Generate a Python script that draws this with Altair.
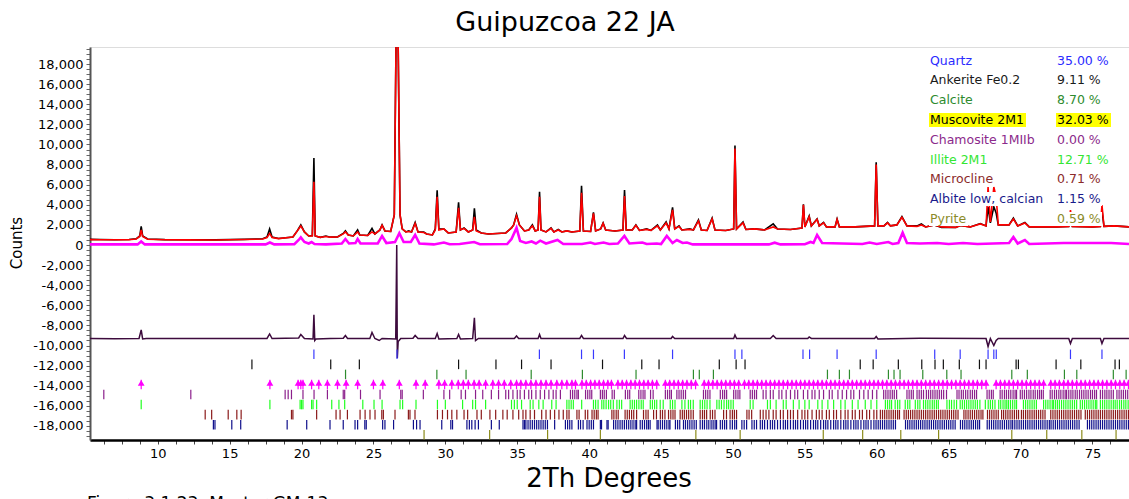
import altair as alt
import pandas as pd

# ---------------- observed and calculated profile (2θ °, counts) ----------------
two_theta = [5.29, 6.0, 7.0, 8.0, 8.5, 8.75, 8.85, 8.95, 9.3, 10.5,
             12.0, 14.0, 16.0, 17.3, 17.6, 17.78, 17.95, 18.4, 19.4, 19.7,
             19.95, 20.2, 20.5, 20.75, 20.86, 20.95, 21.3, 21.7, 22.0, 22.5,
             22.9, 23.05, 23.25, 23.6, 23.9, 24.05, 24.6, 24.9, 25.1, 25.45,
             25.6, 25.8, 26.2, 26.45, 26.64, 26.85, 27.0, 27.25, 27.45, 27.65,
             27.9, 28.1, 28.5, 28.7, 29.1, 29.3, 29.43, 29.55, 29.9, 30.2,
             30.75, 30.92, 31.05, 31.3, 31.6, 31.9, 32.02, 32.15, 32.5, 33.0,
             33.6, 34.2, 34.6, 34.75, 34.95, 35.15, 35.5, 35.8, 36.05, 36.25,
             36.45, 36.55, 36.65, 37.0, 37.35, 37.55, 37.85, 38.1, 38.45, 38.8,
             39.35, 39.47, 39.6, 40.1, 40.3, 40.45, 40.8, 40.97, 41.15, 41.8,
             42.35, 42.46, 42.58, 43.0, 43.25, 43.5, 44.0, 44.3, 44.75, 44.95,
             45.35, 45.55, 45.8, 45.95, 46.25, 46.45, 47.0, 47.25, 47.6, 47.8,
             48.2, 48.55, 48.75, 49.5, 50.05, 50.14, 50.25, 50.7, 50.9, 51.5,
             52.2, 52.8, 53.1, 54.0, 54.8, 54.9, 55.0, 55.3, 55.45, 55.85,
             56.0, 56.3, 56.5, 57.1, 57.24, 57.4, 58.5, 59.85, 59.96, 60.08,
             60.5, 60.75, 60.95, 61.4, 61.75, 62.1, 62.8, 63.1, 63.4, 64.0,
             64.5, 65.5, 65.8, 66.5, 67.2, 67.6, 67.74, 67.9, 68.14, 68.3,
             68.45, 69.2, 69.5, 69.8, 70.3, 70.6, 71.5, 72.5, 73.35, 73.47,
             73.6, 75.0, 75.55, 75.66, 75.8, 76.5, 77.54]
observed = [560, 545, 530, 545, 620, 900, 1850, 900, 600, 540,
            520, 510, 560, 620, 800, 1600, 800, 650, 800, 1400,
            2000, 1300, 900, 950, 8650, 900, 760, 900, 780, 800,
            1150, 1420, 1000, 900, 1500, 1000, 950, 1650, 1100, 1500,
            2000, 1400, 1350, 3000, 30000, 3000, 1600, 1300, 1400, 1300,
            2250, 1300, 1300, 1100, 1000, 1600, 5450, 1600, 1600, 1200,
            1300, 4250, 1500, 1700, 1300, 1500, 3650, 1500, 1200, 1100,
            1150, 1200, 1700, 2000, 3050, 2000, 1400, 1500, 2000, 1400,
            1500, 5300, 1500, 1300, 1700, 1300, 1550, 1300, 1400, 1300,
            1400, 5900, 1400, 1350, 3250, 1400, 1600, 2200, 1500, 1400,
            1500, 5470, 1500, 1500, 2000, 1450, 1600, 1450, 2000, 1500,
            2300, 1600, 3750, 1600, 1900, 1500, 1600, 1500, 2500, 1500,
            1450, 2680, 1500, 1450, 1600, 9900, 1600, 2300, 1550, 1600,
            1500, 2100, 1600, 1550, 1700, 4050, 1800, 2880, 1900, 2600,
            1900, 2240, 1800, 1800, 2580, 1800, 1800, 1900, 8220, 1900,
            1900, 2240, 1900, 2000, 2820, 1900, 1900, 2090, 1800, 2000,
            1750, 1750, 1950, 1800, 2130, 1900, 3800, 2200, 3800, 3200,
            2000, 2000, 2680, 1900, 2240, 1800, 1800, 1800, 1850, 2900,
            1850, 1800, 1850, 3480, 1850, 1900, 1800]
calculated = [540, 530, 520, 530, 600, 850, 1500, 850, 580, 530,
              515, 505, 545, 600, 750, 1150, 750, 640, 800, 1400,
              1900, 1300, 900, 900, 6300, 900, 760, 850, 780, 800,
              1100, 1300, 1000, 900, 1300, 1000, 950, 1300, 1100, 1500,
              1950, 1400, 1350, 3000, 30000, 3000, 1600, 1300, 1350, 1300,
              2150, 1300, 1250, 1100, 1000, 1500, 4800, 1500, 1600, 1200,
              1300, 3700, 1500, 1650, 1300, 1500, 2800, 1400, 1200, 1100,
              1150, 1200, 1700, 2000, 2900, 2000, 1400, 1500, 1900, 1400,
              1500, 4800, 1500, 1300, 1650, 1300, 1500, 1300, 1400, 1300,
              1400, 5200, 1400, 1350, 3150, 1400, 1600, 2150, 1500, 1400,
              1500, 4870, 1500, 1500, 1950, 1450, 1550, 1450, 1900, 1500,
              2200, 1600, 3500, 1600, 1850, 1500, 1550, 1500, 2400, 1500,
              1450, 2600, 1500, 1450, 1600, 9600, 1600, 2200, 1550, 1600,
              1500, 1800, 1600, 1550, 1700, 4000, 1800, 2800, 1900, 2550,
              1900, 2200, 1800, 1800, 2550, 1800, 1800, 1900, 8000, 1900,
              1900, 2200, 1900, 2000, 2750, 1900, 1850, 2000, 1800, 2000,
              1800, 1750, 1950, 1800, 2100, 1900, 5770, 2300, 5770, 4800,
              2000, 2000, 2600, 1900, 2200, 1800, 1800, 1800, 1850, 3480,
              1850, 1800, 1850, 3980, 1850, 1900, 1800]

# ---------------- muscovite contribution, drawn around zero ----------------
phase_tt = [5.29, 8.6, 8.85, 9.1, 17.5, 17.8, 18.1, 19.5, 19.8, 19.95,
            20.2, 20.5, 20.7, 20.9, 21.7, 22.8, 23.05, 23.3, 23.75, 23.9,
            24.1, 25.3, 25.6, 25.9, 26.5, 26.8, 27.1, 27.6, 27.9, 28.2,
            29.2, 29.9, 30.3, 31.0, 32.0, 32.4, 34.3, 34.6, 34.95, 35.2,
            35.6, 36.0, 36.3, 36.6, 37.0, 37.8, 38.2, 39.5, 40.1, 40.4,
            41.0, 41.4, 42.0, 42.45, 42.8, 43.7, 44.0, 44.7, 45.0, 45.4,
            45.8, 46.1, 46.5, 46.8, 47.2, 52.5, 52.9, 53.3, 55.0, 55.4,
            55.6, 55.85, 56.2, 59.0, 59.5, 60.0, 60.8, 61.1, 61.5, 61.8,
            62.1, 63.0, 64.2, 65.0, 66.0, 67.0, 69.2, 69.5, 69.8, 70.3,
            70.6, 73.0, 76.3, 77.54]
phase_counts = [60, 60, 350, 60, 60, 250, 60, 80, 500, 760,
                300, 150, 300, 100, 60, 150, 600, 150, 200, 600,
                150, 150, 900, 200, 300, 1180, 300, 300, 1000, 150,
                60, 250, 80, 100, 300, 80, 100, 600, 1700, 400,
                200, 350, 150, 430, 150, 500, 100, 100, 250, 100,
                250, 100, 150, 900, 150, 250, 100, 150, 100, 900,
                200, 500, 200, 250, 60, 60, 230, 60, 80, 300,
                200, 990, 200, 100, 250, 100, 300, 100, 200, 1230,
                200, 150, 200, 100, 200, 100, 200, 800, 150, 500,
                100, 200, 200, 100]

# ---------------- difference curve (offset below zero) ----------------
diff_tt = [5.29, 7.0, 8.7, 8.85, 8.95, 9.2, 12.0, 15.0, 17.6, 17.78,
           17.95, 19.8, 19.95, 20.2, 20.8, 20.86, 20.92, 21.0, 22.0, 22.9,
           23.05, 23.2, 24.75, 24.9, 25.1, 25.4, 25.6, 26.55, 26.62, 26.66,
           26.72, 26.9, 27.75, 27.9, 28.1, 29.3, 29.43, 29.55, 30.8, 30.92,
           31.05, 31.9, 32.02, 32.1, 32.3, 34.8, 34.95, 35.1, 36.45, 36.55,
           36.65, 39.35, 39.47, 39.6, 42.35, 42.46, 42.6, 45.7, 45.8, 45.95,
           50.05, 50.14, 50.25, 52.6, 52.8, 53.0, 55.2, 55.3, 55.45, 59.85,
           59.96, 60.08, 63.0, 67.6, 67.74, 67.9, 68.14, 68.3, 68.45, 73.35,
           73.47, 73.6, 75.55, 75.66, 75.8, 77.54]
diff_counts = [-9300, -9320, -9300, -8450, -9350, -9300, -9310, -9290, -9300, -8850,
               -9300, -9250, -8900, -9300, -9350, -6950, -9500, -9350, -9300, -9280,
               -9000, -9300, -9300, -8700, -9300, -9500, -9300, -9350, 0, -11250,
               -9600, -9300, -9280, -9000, -9300, -9300, -8800, -9350, -9300, -8900,
               -9350, -9300, -7250, -9500, -9300, -9300, -9050, -9300, -9300, -8900,
               -9300, -9300, -9000, -9300, -9300, -9000, -9300, -9300, -9100, -9300,
               -9300, -8950, -9300, -9300, -9000, -9300, -9300, -9150, -9300, -9300,
               -9100, -9350, -9280, -9300, -10100, -9300, -10000, -9500, -9300, -9300,
               -9800, -9300, -9300, -9800, -9300, -9300]

# ---------------- phases: names, weight fractions, colours ----------------
phase_names = ["Quartz", "Ankerite Fe0.2", "Calcite", "Muscovite 2M1",
               "Chamosite 1MIIb", "Illite 2M1", "Microcline",
               "Albite low, calcian", "Pyrite"]
phase_pct = [35.00, 9.11, 8.70, 32.03, 0.00, 12.71, 0.71, 1.15, 0.59]
text_colors = ["#2b2bff", "#1a1a1a", "#2e8b2e", "#000000", "#8b2a8b",
               "#33e633", "#8b2a2a", "#1a1a8b", "#8b8b2a"]
tick_colors = ["#3a3aff", "#111111", "#2e8b2e", "#ff00ff", "#8b1f8b",
               "#22ff22", "#8b1a1a", "#0f0f8b", "#8b8b1a"]

# ---------------- reflection positions (2θ °) ----------------
quartz_hkl = [20.86, 26.64, 36.54, 39.47, 40.3, 42.45, 45.8, 50.14, 50.62, 54.87,
              55.33, 57.24, 59.96, 64.03, 65.8, 67.74, 68.14, 68.31, 73.47, 75.66]
ankerite_hkl = [16.55, 22.03, 24.02, 30.92, 33.52, 35.3, 37.35, 40.93, 43.66, 44.86,
                49.05, 50.22, 50.84, 58.85, 59.75, 61.5, 63.13, 64.05, 64.63, 65.74,
                67.14, 67.6, 69.69, 69.85, 72.47, 74.19, 76.57, 76.87]
calcite_hkl = [23.06, 29.41, 31.44, 35.97, 39.53, 43.26, 47.25, 47.66, 48.64, 56.57,
               57.4, 58.1, 60.81, 61.2, 61.62, 63.2, 64.87, 65.86, 69.39, 70.47,
               73.05, 73.91, 76.45, 77.34]
muscovite_hkl = [8.85, 17.8, 19.76, 19.95, 20.1, 20.7, 21.2, 21.8, 22.5, 23.1,
                 23.9, 25.0, 25.65, 26.8, 27.96, 28.6, 29.55, 29.95, 30.45, 30.9,
                 31.25, 31.6, 32.0, 32.35, 32.8, 33.3, 33.7, 34.1, 34.55, 34.95,
                 35.25, 35.6, 35.95, 36.3, 36.65, 37.0, 37.35, 37.75, 38.1, 38.45,
                 38.8, 39.05, 39.5, 39.8, 40.1, 40.4, 40.7, 41.0, 41.3, 41.55,
                 42.0, 42.3, 42.6, 42.9, 43.2, 43.5, 43.8, 44.1, 44.4, 44.7,
                 45.3, 45.6, 45.9, 46.2, 46.5, 46.8, 47.1, 47.4, 48.0, 48.3,
                 48.6, 48.9, 49.2, 49.5, 49.8, 50.1, 50.4, 50.8, 51.1, 51.4,
                 51.7, 52.0, 52.3, 52.6, 52.9, 53.2, 53.5, 53.8, 54.1, 54.4,
                 54.7, 55.0, 55.3, 55.6, 55.9, 56.2, 56.5, 56.8, 57.1, 57.4,
                 57.7, 58.0, 58.3, 58.6, 58.9, 59.2, 59.5, 59.8, 60.1, 60.4,
                 60.7, 61.0, 61.3, 61.6, 61.9, 62.2, 62.5, 62.8, 63.1, 63.4,
                 63.7, 64.0, 64.3, 64.6, 64.9, 65.2, 65.5, 65.8, 66.1, 66.4,
                 66.7, 67.0, 67.3, 67.6, 68.3, 68.6, 68.9, 69.2, 69.5, 69.8,
                 70.1, 70.4, 70.7, 71.0, 71.3, 71.6, 72.1, 72.4, 72.7, 73.0,
                 73.3, 73.6, 73.9, 74.2, 74.5, 74.8, 75.1, 75.4, 75.7, 76.0,
                 76.3, 76.6, 76.9, 77.2, 77.5]
chamosite_hkl = [6.25, 12.3, 18.86, 19.07, 19.3, 20.1, 20.87, 21.8, 22.9, 23.0,
                 24.1, 25.46, 26.9, 27.0, 28.47, 29.9, 30.3, 31.1, 31.4, 32.1,
                 32.6, 33.2, 33.7, 34.2, 34.4, 34.7, 35.0, 35.2, 35.5, 35.8,
                 36.0, 36.3, 36.6, 36.9, 37.2, 37.5, 37.7, 38.0, 38.7, 38.85,
                 39.0, 39.15, 39.25, 39.75, 39.9, 40.05, 40.18, 40.78, 40.92, 41.05,
                 41.2, 41.6, 41.75, 42.52, 42.68, 42.82, 43.45, 43.6, 43.75, 43.88,
                 44.27, 44.45, 45.3, 45.45, 45.6, 45.72, 46.1, 46.25, 46.4, 46.55,
                 46.7, 47.95, 48.1, 48.25, 48.4, 49.12, 49.28, 49.42, 49.56, 50.05,
                 50.2, 50.35, 50.48, 51.2, 51.35, 51.5, 51.64, 52.1, 52.3, 52.6,
                 52.8, 53.2, 53.4, 53.7, 54.0, 54.3, 54.5, 54.9, 55.2, 55.5,
                 55.7, 56.0, 56.3, 56.7, 56.9, 57.3, 57.6, 57.9, 58.2, 58.4,
                 58.8, 59.1, 59.4, 59.7, 60.0, 60.48, 60.63, 60.78, 60.93, 61.08,
                 61.22, 61.38, 62.1, 62.25, 62.4, 62.54, 62.8, 62.95, 63.1, 63.25,
                 63.45, 63.6, 63.75, 63.9, 64.05, 64.2, 64.35, 64.5, 64.65, 64.85,
                 65.58, 65.72, 65.88, 66.02, 66.18, 66.33, 66.5, 66.65, 66.8, 66.94,
                 67.67, 67.82, 67.97, 68.1, 68.58, 68.72, 68.88, 69.02, 69.17, 69.32,
                 69.48, 69.62, 69.72, 69.98, 70.12, 70.27, 70.42, 70.58, 70.72, 70.88,
                 71.02, 71.18, 71.32, 71.45, 71.58, 72.06, 72.2, 72.36, 72.5, 72.66,
                 72.8, 72.96, 73.1, 73.2, 73.35, 73.5, 73.64, 73.8, 73.94, 74.1,
                 74.25, 74.4, 74.55, 74.7, 74.86, 75.0, 75.15, 75.28, 75.55, 75.7,
                 75.86, 76.0, 76.15, 76.3, 76.45, 76.7, 76.85, 77.0, 77.15, 77.3,
                 77.45]
illite_hkl = [8.85, 17.8, 19.9, 20.0, 20.1, 20.7, 20.8, 21.05, 22.1, 22.6,
              23.0, 24.26, 25.04, 25.6, 26.85, 27.03, 27.96, 29.45, 30.0, 31.2,
              31.9, 32.1, 32.8, 34.6, 34.8, 35.0, 35.3, 35.9, 36.1, 36.5,
              36.8, 37.4, 37.7, 38.45, 38.6, 38.75, 38.9, 39.48, 40.3, 40.45,
              40.62, 40.88, 41.02, 41.18, 41.35, 41.5, 41.68, 41.93, 42.1, 42.26,
              42.85, 43.0, 43.15, 43.3, 43.46, 43.62, 43.76, 44.25, 44.4, 44.55,
              44.7, 44.94, 45.15, 45.64, 45.8, 45.97, 46.45, 46.66, 46.9, 47.05,
              47.24, 47.72, 47.88, 48.04, 48.2, 48.4, 48.88, 49.04, 49.2, 49.38,
              49.56, 49.7, 49.86, 50.02, 51.2, 51.4, 52.4, 52.6, 53.0, 53.5,
              53.7, 54.2, 54.6, 55.0, 55.3, 55.9, 56.2, 56.6, 57.0, 57.5,
              57.8, 58.3, 58.7, 59.2, 59.6, 60.0, 60.6, 60.75, 60.9, 61.03,
              61.28, 61.45, 61.6, 61.98, 62.15, 62.3, 62.68, 62.85, 63.0, 63.25,
              63.4, 63.55, 63.7, 63.86, 64.0, 64.15, 64.28, 64.88, 65.05, 65.2,
              65.38, 65.55, 65.8, 65.95, 66.1, 66.25, 66.4, 66.55, 66.7, 66.85,
              67.0, 67.17, 67.55, 67.75, 67.9, 68.05, 68.22, 68.48, 68.62, 68.78,
              68.92, 69.04, 69.16, 69.3, 69.45, 69.6, 69.72, 70.2, 70.35, 70.5,
              70.65, 70.8, 70.95, 71.1, 71.6, 71.75, 71.9, 72.05, 72.2, 72.28,
              72.42, 72.56, 72.7, 72.85, 73.0, 73.15, 73.3, 73.45, 73.6, 73.75,
              73.9, 74.15, 74.3, 74.45, 74.6, 74.75, 74.9, 75.05, 75.2, 75.3,
              75.55, 75.7, 75.85, 76.0, 76.15, 76.3, 76.45, 76.58, 76.72, 76.88,
              77.02, 77.18, 77.32, 77.48]
microcline_hkl = [13.3, 13.75, 14.9, 15.5, 15.8, 19.3, 19.4, 21.05, 22.4, 22.68,
                  23.19, 24.07, 24.42, 24.76, 25.11, 25.58, 25.69, 26.5, 27.43, 27.54,
                  27.89, 29.45, 29.8, 30.15, 30.45, 30.8, 31.3, 31.55, 32.2, 32.5,
                  33.1, 33.5, 34.0, 34.3, 34.7, 35.1, 35.4, 35.6, 35.9, 36.2,
                  36.7, 37.0, 37.3, 37.6, 37.9, 38.2, 38.45, 38.6, 39.15, 39.3,
                  39.73, 39.9, 40.2, 40.35, 40.5, 40.62, 41.58, 41.72, 41.88, 42.02,
                  42.5, 42.65, 42.8, 42.95, 43.1, 43.3, 43.78, 43.95, 44.1, 44.48,
                  44.68, 44.95, 45.1, 45.27, 45.52, 45.68, 45.83, 45.97, 46.33, 46.48,
                  46.62, 46.77, 46.92, 47.08, 47.24, 47.72, 47.88, 48.02, 48.17, 48.42,
                  48.58, 48.75, 49.35, 49.55, 49.8, 49.96, 50.1, 50.25, 50.97, 51.12,
                  51.3, 51.9, 52.1, 52.3, 52.5, 52.8, 53.0, 53.3, 53.5, 53.8,
                  54.0, 54.2, 54.5, 54.8, 55.0, 55.2, 55.5, 55.8, 56.0, 56.2,
                  56.5, 56.7, 57.0, 57.2, 57.5, 57.8, 58.0, 58.3, 58.5, 58.8,
                  59.0, 59.3, 59.5, 59.8, 60.0, 60.25, 60.4, 60.55, 60.7, 60.85,
                  61.0, 61.15, 61.3, 61.45, 61.58, 61.9, 62.05, 62.2, 62.35, 62.5,
                  62.65, 62.8, 62.95, 63.1, 63.25, 63.4, 63.55, 63.7, 63.85, 64.0,
                  64.15, 64.3, 64.45, 64.6, 64.75, 64.9, 65.05, 65.2, 65.35, 65.5,
                  65.65, 66.06, 66.2, 66.35, 66.5, 66.65, 66.8, 66.95, 67.1, 67.25,
                  67.38, 67.7, 67.85, 68.0, 68.15, 68.3, 68.45, 68.68, 68.82, 68.97,
                  69.12, 69.27, 69.42, 69.57, 69.72, 69.86, 70.06, 70.2, 70.35, 70.5,
                  70.65, 70.8, 70.95, 71.1, 71.25, 71.4, 71.55, 71.7, 72.1, 72.25,
                  72.4, 72.55, 72.7, 72.85, 73.0, 73.15, 73.3, 73.45, 73.6, 73.75,
                  73.9, 74.05, 74.2, 74.5, 74.65, 74.8, 74.95, 75.1, 75.25, 75.4,
                  75.55, 75.7, 75.85, 76.0, 76.15, 76.3, 76.45, 76.6, 76.75, 76.9,
                  77.05, 77.2, 77.35, 77.5]
albite_hkl = [13.87, 13.98, 15.15, 15.77, 19.0, 20.36, 21.98, 22.9, 23.72, 23.9,
              24.4, 24.5, 25.64, 25.8, 26.4, 27.78, 28.0, 28.24, 29.75, 30.38,
              30.5, 31.5, 31.67, 31.84, 32.07, 32.3, 33.2, 33.75, 35.4, 35.5,
              35.6, 35.75, 35.9, 36.05, 36.2, 36.35, 36.5, 36.65, 36.8, 36.95,
              37.1, 37.6, 38.35, 38.5, 38.65, 38.8, 39.25, 39.4, 39.58, 39.85,
              40.0, 40.15, 40.3, 40.78, 40.86, 41.24, 41.32, 41.7, 41.85, 42.0,
              42.15, 42.3, 42.45, 42.6, 42.75, 42.9, 43.05, 43.2, 43.3, 43.55,
              43.7, 43.85, 44.0, 44.12, 44.24, 44.72, 44.8, 44.95, 45.1, 45.25,
              45.4, 45.55, 45.62, 46.0, 46.15, 46.3, 46.56, 46.7, 46.85, 47.0,
              47.15, 47.3, 47.45, 47.72, 47.88, 48.02, 48.18, 48.32, 48.48, 48.62,
              48.76, 48.86, 49.12, 49.27, 49.42, 49.56, 49.8, 49.96, 50.12, 50.25,
              50.62, 50.78, 50.95, 51.32, 51.48, 51.64, 51.9, 52.05, 52.2, 52.4,
              52.6, 52.75, 52.9, 53.1, 53.3, 53.5, 53.65, 53.8, 54.0, 54.2,
              54.35, 54.5, 54.7, 54.9, 55.05, 55.2, 55.4, 55.6, 55.75, 55.9,
              56.1, 56.3, 56.45, 56.6, 56.8, 57.0, 57.15, 57.3, 57.5, 57.7,
              57.85, 58.0, 58.2, 58.4, 58.55, 58.7, 58.9, 59.1, 59.25, 59.4,
              59.6, 59.8, 59.95, 60.1, 60.25, 60.4, 60.55, 60.7, 60.85, 61.0,
              61.15, 61.3, 62.0, 62.15, 62.3, 62.45, 62.6, 62.75, 62.9, 63.05,
              63.2, 63.35, 63.5, 63.65, 63.8, 63.95, 64.1, 64.25, 64.4, 64.55,
              64.7, 64.85, 65.0, 65.15, 65.3, 65.45, 65.82, 65.97, 66.12, 66.27,
              66.42, 66.57, 66.72, 66.87, 67.02, 67.15, 67.68, 67.83, 67.98, 68.13,
              68.28, 68.43, 68.58, 68.73, 68.88, 69.03, 69.18, 69.33, 69.45, 69.6,
              69.75, 69.9, 70.05, 70.2, 70.35, 70.5, 70.65, 70.8, 70.95, 71.1,
              71.25, 71.4, 71.55, 71.7, 71.85, 72.0, 72.12, 72.27, 72.42, 72.57,
              72.72, 72.87, 73.02, 73.17, 73.32, 73.47, 73.62, 73.77, 73.92, 74.07,
              74.65, 74.8, 74.95, 75.1, 75.25, 75.4, 75.55, 75.7, 75.85, 76.0,
              76.15, 76.3, 76.45, 76.6, 76.75, 76.9, 77.05, 77.2, 77.35, 77.5]
pyrite_hkl = [28.52, 33.08, 37.11, 40.78, 47.42, 50.5, 56.28, 59.02, 61.67, 64.3,
              69.39, 71.82, 74.26, 76.64]

phase_ticks = [quartz_hkl, ankerite_hkl, calcite_hkl, muscovite_hkl, chamosite_hkl,
               illite_hkl, microcline_hkl, albite_hkl, pyrite_hkl]

# ---------------- axis ticks ----------------
x_tick_values = [6.25 + 1.25 * k for k in range(57)]
y_tick_values = list(range(-19000, 19501, 500))

# ---------------- layout ----------------
PAD_L, PAD_T, PLOT_W, PLOT_H = 90, 47, 1039, 393
ROW_TOP0, ROW_STEP, TICK_LEN = -10400, 1000, 950
FONT = "DejaVu Sans"

xs = alt.Scale(domain=[5.29, 77.54], nice=False, zero=False)
ys = alt.Scale(domain=[-19400, 19700], nice=False, zero=False)

x_axis = alt.Axis(
    values=x_tick_values,
    labelExpr="datum.value % 5 == 0 ? format(datum.value, 'd') : ''",
    domainColor="#000000", domainWidth=2.5, tickColor="#444444", tickWidth=1,
    tickSize=4, labelFont=FONT, labelFontSize=13, labelColor="#000000",
    labelPadding=3, labelOverlap=False, labelFlush=False, grid=False, title=None,
)
y_axis = alt.Axis(
    values=y_tick_values,
    labelExpr="datum.value % 2000 == 0 ? replace(format(datum.value, ','), '\u2212', '-') : ''",
    domainColor="#555555", domainWidth=2, tickColor="#666666", tickWidth=1,
    tickSize=4, labelFont=FONT, labelFontSize=13, labelColor="#000000",
    labelPadding=3, labelOverlap=False, labelFlush=False, grid=False, title=None,
)


def xy(xfield, yfield):
    return dict(
        x=alt.X(f"{xfield}:Q", scale=xs, axis=x_axis, title=None),
        y=alt.Y(f"{yfield}:Q", scale=ys, axis=y_axis, title=None),
    )


profile = pd.DataFrame({"tt": two_theta, "obs": observed, "calc": calculated})
obs_line = alt.Chart(profile).mark_line(color="#000000", strokeWidth=1.6, clip=True).encode(**xy("tt", "obs"))
calc_line = alt.Chart(profile).mark_line(color="#ff0000", strokeWidth=1.6, clip=True).encode(**xy("tt", "calc"))

phase_df = pd.DataFrame({"tt": phase_tt, "c": phase_counts})
phase_line = alt.Chart(phase_df).mark_line(color="#ff00ff", strokeWidth=2.6, clip=True).encode(**xy("tt", "c"))

diff_df = pd.DataFrame({"tt": diff_tt, "c": diff_counts})
diff_line = alt.Chart(diff_df).mark_line(color="#3d0b3d", strokeWidth=1.5, clip=True).encode(**xy("tt", "c"))

# reflection tick rows, one row per phase
rows = []
for i, (name, positions) in enumerate(zip(phase_names, phase_ticks)):
    top = ROW_TOP0 - ROW_STEP * i
    for p in positions:
        rows.append({"tt": p, "top": top, "bottom": top - TICK_LEN, "phase": name})
tick_df = pd.DataFrame(rows)
tick_marks = alt.Chart(tick_df).mark_rule(strokeWidth=1.2, clip=True).encode(
    **xy("tt", "top"),
    y2="bottom:Q",
    color=alt.Color("phase:N", scale=alt.Scale(domain=phase_names, range=tick_colors), legend=None),
)

mus_row_top = ROW_TOP0 - ROW_STEP * phase_names.index("Muscovite 2M1")
mus_df = pd.DataFrame({"tt": muscovite_hkl, "c": [mus_row_top - 320] * len(muscovite_hkl)})
mus_marks = alt.Chart(mus_df).mark_point(
    shape="triangle-up", filled=True, size=46, color="#ff00ff", opacity=1, clip=True
).encode(**xy("tt", "c"))

# legend block in the upper right of the plot
name_w = [44, 100, 45, 96, 107, 58, 65, 116, 38]
pct_w = [53, 45, 45, 54, 45, 53, 45, 45, 45]
leg = pd.DataFrame({
    "name": phase_names,
    "pct": [f"{v:.2f} %" for v in phase_pct],
    "color": text_colors,
    "yc": [60.5 + 19.8 * i - PAD_T for i in range(len(phase_names))],
    "box": ["#ffff00" if n == "Muscovite 2M1" else "#ffffff" for n in phase_names],
})
NAME_X, PCT_X = 930 - PAD_L, 1057 - PAD_L
leg["n0"] = NAME_X - 1
leg["n1"] = [NAME_X + w for w in name_w]
leg["p0"] = PCT_X - 1
leg["p1"] = [PCT_X + w for w in pct_w]
leg["y0"] = leg["yc"] - 7
leg["y1"] = leg["yc"] + 7

name_box = alt.Chart(leg).mark_rect().encode(
    x=alt.X("n0:Q", scale=None), x2="n1:Q",
    y=alt.Y("y0:Q", scale=None), y2="y1:Q",
    color=alt.Color("box:N", scale=None),
)
pct_box = alt.Chart(leg).mark_rect().encode(
    x=alt.X("p0:Q", scale=None), x2="p1:Q",
    y=alt.Y("y0:Q", scale=None), y2="y1:Q",
    color=alt.Color("box:N", scale=None),
)
name_text = alt.Chart(leg).mark_text(
    align="left", baseline="middle", font=FONT, fontSize=12.5
).encode(
    x=alt.value(NAME_X), y=alt.Y("yc:Q", scale=None),
    text="name:N", color=alt.Color("color:N", scale=None),
)
pct_text = alt.Chart(leg).mark_text(
    align="left", baseline="middle", font=FONT, fontSize=12.5
).encode(
    x=alt.value(PCT_X), y=alt.Y("yc:Q", scale=None),
    text="pct:N", color=alt.Color("color:N", scale=None),
)


def label(text, x, y, size, angle=0, align="center", baseline="alphabetic"):
    return alt.Chart(pd.DataFrame({"t": [text]})).mark_text(
        font=FONT, fontSize=size, angle=angle, align=align, baseline=baseline, color="#000000"
    ).encode(x=alt.value(x), y=alt.value(y), text="t:N")


title = label("Guipuzcoa 22 JA", 565 - PAD_L, 31 - PAD_T, 27)
x_title = label("2Th Degrees", 609 - PAD_L, 487 - PAD_T, 26)
y_title = label("Counts", 17 - PAD_L, 243 - PAD_T, 15, angle=270, baseline="middle")
caption = label("Figure 3.1.23. Master GM-13", 87 - PAD_L, 509 - PAD_T, 17, align="left")

chart = alt.layer(
    obs_line, calc_line, phase_line, diff_line, tick_marks, mus_marks,
    name_box, pct_box, name_text, pct_text, title, x_title, y_title, caption,
).properties(
    width=PLOT_W, height=PLOT_H,
    autosize=alt.AutoSizeParams(type="none"),
    padding={"left": PAD_L, "top": PAD_T, "right": 0, "bottom": 499 - PAD_T - PLOT_H},
).configure_view(
    stroke="#000000", strokeWidth=2
).configure(background="#ffffff")

chart.save("out.html", embed_options={"renderer": "svg", "actions": False})
